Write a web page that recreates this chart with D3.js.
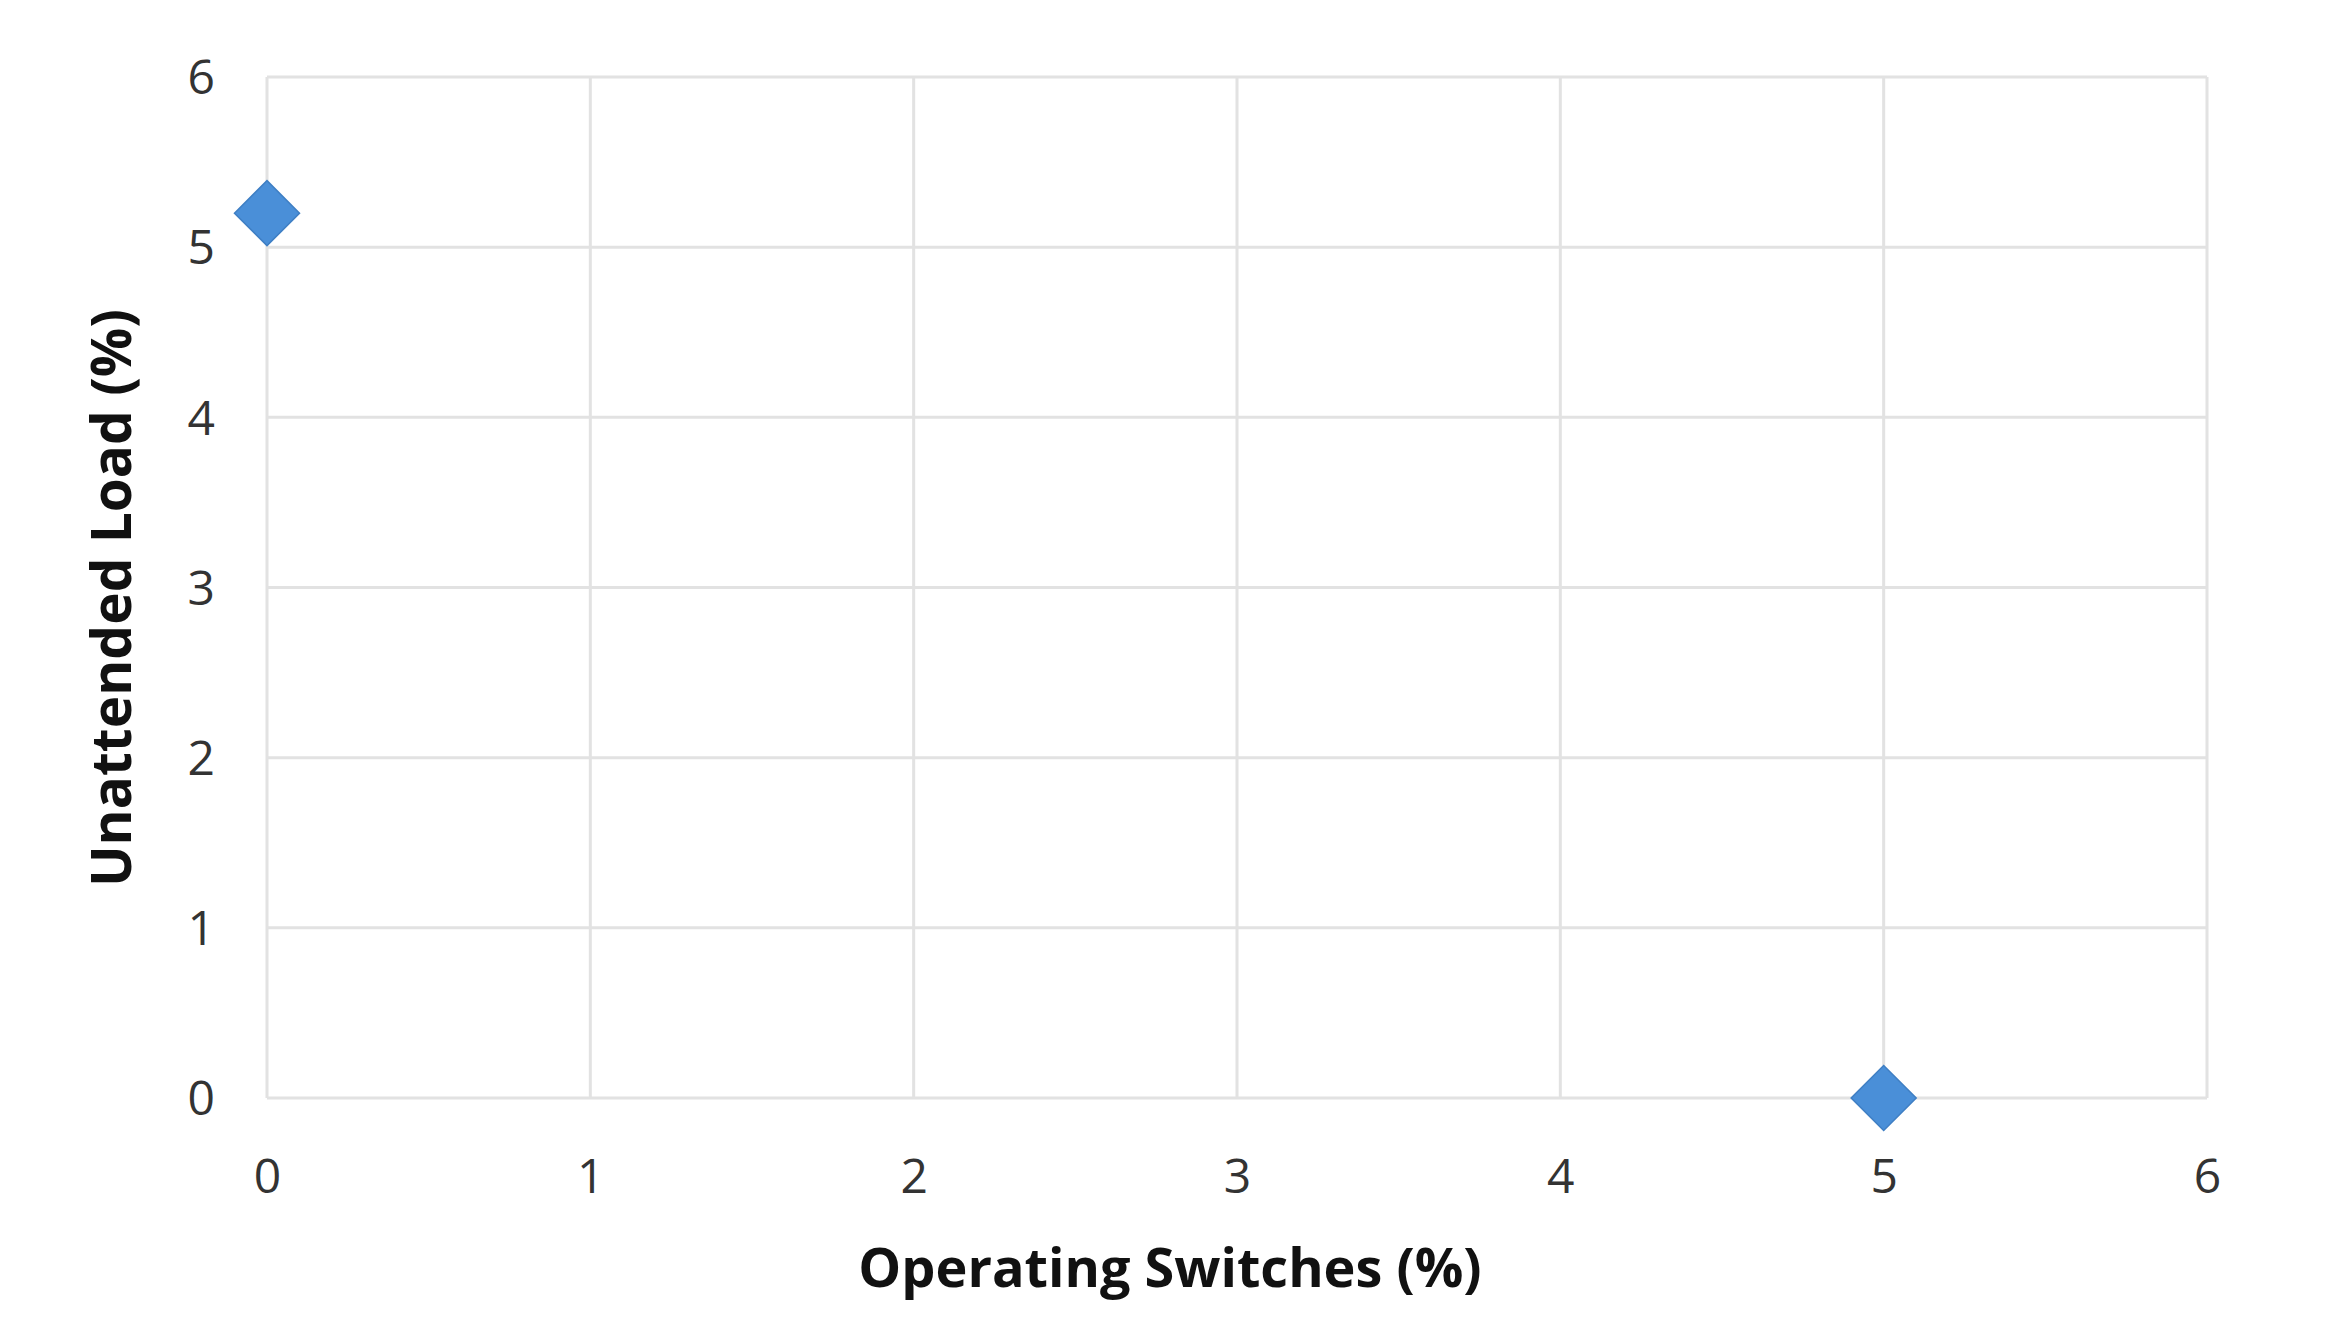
<!DOCTYPE html>
<html><head><meta charset="utf-8">
<script src="https://cdn.jsdelivr.net/npm/d3@7"></script>
<style>html,body{margin:0;padding:0;background:#fff;}</style>
</head><body>
<script>
const xValues = [0, 5];
const yValues = [5.2, 0];
const xTicks = [0, 1, 2, 3, 4, 5, 6];
const yTicks = [0, 1, 2, 3, 4, 5, 6];
const xTitle = "Operating Switches (%)";
const yTitle = "Unattended Load (%)";

const W = 2352, H = 1328;
const m = {left: 267, right: 2207, top: 77, bottom: 1098};
const svg = d3.select("body").append("svg").attr("width", W).attr("height", H);
const x = d3.scaleLinear().domain([0, 6]).range([m.left, m.right]);
const y = d3.scaleLinear().domain([0, 6]).range([m.bottom, m.top]);
const font = "'Open Sans', 'Liberation Sans', sans-serif";

// grid
svg.append("g").selectAll("line.v").data(xTicks).join("line")
  .attr("x1", d => x(d)).attr("x2", d => x(d)).attr("y1", y(6)).attr("y2", y(0))
  .attr("stroke", "#e2e2e2").attr("stroke-width", 3);
svg.append("g").selectAll("line.h").data(yTicks).join("line")
  .attr("y1", d => y(d)).attr("y2", d => y(d)).attr("x1", x(0)).attr("x2", x(6))
  .attr("stroke", "#e2e2e2").attr("stroke-width", 3);

// axes (labels only)
const xAxis = svg.append("g").attr("transform", `translate(0,${m.bottom})`)
  .call(d3.axisBottom(x).tickValues(xTicks).tickSize(0).tickPadding(73).tickFormat(d3.format("d")));
const yAxis = svg.append("g").attr("transform", `translate(${m.left},0)`)
  .call(d3.axisLeft(y).tickValues(yTicks).tickSize(0).tickPadding(52).tickFormat(d3.format("d")));
[xAxis, yAxis].forEach(a => {
  a.select(".domain").remove();
  a.selectAll("text").attr("font-family", font).attr("font-size", 48).attr("fill", "#333");
});
yAxis.selectAll("text").attr("dy", "0.35em");
xAxis.selectAll("text").attr("dy", "0.45em");

// points
const diamond = d3.symbol().type(d3.symbolSquare).size(46*46);
svg.append("g").selectAll("path").data(xValues.map((v, i) => [v, yValues[i]])).join("path")
  .attr("d", diamond)
  .attr("transform", d => `translate(${x(d[0])},${y(d[1])}) rotate(45)`)
  .attr("fill", "#4a8fd8").attr("stroke", "#3f7fc4").attr("stroke-width", 1.5);

// titles
svg.append("text").attr("x", 1170).attr("y", 1268).attr("dy", "0.35em")
  .attr("text-anchor", "middle").attr("font-family", font).attr("font-size", 54)
  .attr("font-weight", "bold").attr("fill", "#111").text(xTitle);
svg.append("text").attr("transform", "translate(112,598) rotate(-90)").attr("dy", "0.35em")
  .attr("text-anchor", "middle").attr("font-family", font).attr("font-size", 55)
  .attr("font-weight", "bold").attr("fill", "#111").text(yTitle);
</script>
</body></html>
